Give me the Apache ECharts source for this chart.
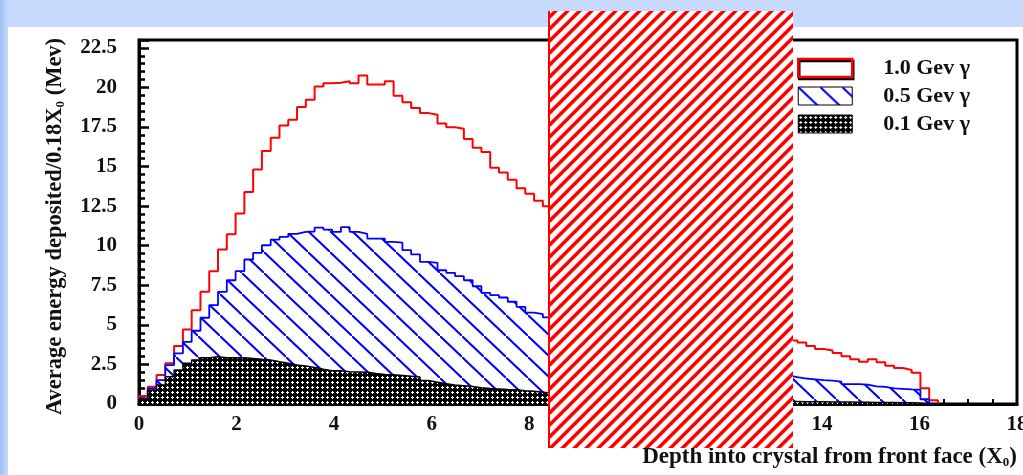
<!doctype html>
<html>
<head>
<meta charset="utf-8">
<title>Energy deposited vs depth</title>
<script src="https://cdn.jsdelivr.net/npm/echarts@6/dist/echarts.min.js"></script>
<style>
html, body { margin: 0; padding: 0; background: #fff; }
#main { width: 1023px; height: 475px; }
</style>
</head>
<body>
<div id="main"></div>
<script>
// histogram bins are 0.18 X0 wide, starting at 0
var binWidth = 0.18;
var seriesNames = ['1.0 Gev \u03b3', '0.5 Gev \u03b3', '0.1 Gev \u03b3'];

// 1.0 GeV gamma (bins 47-73 are hidden behind the striped box, rough estimates)
var e100 = [0.5, 1.09, 1.83, 2.57, 3.66, 4.71, 5.93, 7.09, 8.39, 9.76, 10.73, 12.03, 13.4, 14.81, 15.98, 16.82, 17.6, 17.96, 18.76, 19.22, 20.06, 20.27, 20.3, 20.4,
  20.27, 20.76, 20.19, 20.19, 20.4, 19.47, 19.07, 18.7, 18.38, 18.28, 17.73, 17.48, 17.39, 16.74, 16.19, 15.92, 14.93, 14.63, 14.17, 13.64, 13.29, 12.85, 12.49,
  12.2, 11.8, 11.5, 11.1, 10.7, 10.4, 10.1, 9.7, 9.4, 9.0, 8.7, 8.4, 8.1, 7.7, 7.5, 7.1, 6.9, 6.6, 6.3, 6.0, 5.8, 5.5, 5.3, 5.0, 4.8, 4.5, 4.3,
  4.02, 3.88, 3.67, 3.47, 3.38, 3.22, 3.01, 2.83, 2.67, 2.82, 2.64, 2.42, 2.27, 2.15, 1.98, 0.99, 0.23];

// 0.5 GeV gamma
var e050 = [0.36, 0.99, 1.51, 2.46, 3.2, 3.93, 4.63, 5.45, 6.25, 7.09, 7.82, 8.39, 9.13, 9.55, 10.03, 10.39, 10.56, 10.75, 10.87, 10.9, 11.15, 11.02, 10.87, 11.17,
  10.87, 10.75, 10.45, 10.45, 10.24, 10.2, 9.72, 9.46, 8.98, 8.92, 8.45, 8.29, 8.08, 7.82, 7.44, 7.02, 6.88, 6.73, 6.46, 6.14, 5.78, 5.68, 5.47,
  5.3, 5.2, 5.0, 4.9, 4.7, 4.6, 4.4, 4.3, 4.1, 4.0, 3.8, 3.7, 3.5, 3.4, 3.3, 3.1, 3.0, 2.9, 2.8, 2.6, 2.5, 2.4, 2.3, 2.2, 2.0, 1.9, 1.8,
  1.7, 1.61, 1.56, 1.51, 1.48, 1.41, 1.26, 1.26, 1.22, 1.12, 1.08, 0.99, 0.96, 0.92, 0.9, 0.3, 0];

// 0.1 GeV gamma
var e010 = [0.3, 0.88, 1.2, 1.72, 2.15, 2.57, 2.78, 2.92, 2.99, 2.92, 2.92, 2.92, 2.88, 2.82, 2.78, 2.67, 2.57, 2.46, 2.4, 2.31, 2.19, 2.1, 2.1, 2.04,
  2.02, 2.0, 1.92, 1.86, 1.85, 1.8, 1.75, 1.7, 1.48, 1.38, 1.28, 1.2, 1.15, 1.1, 1.02, 0.98, 0.95, 0.92, 0.9, 0.83, 0.8, 0.75, 0.7,
  0.66, 0.63, 0.6, 0.57, 0.55, 0.52, 0.5, 0.48, 0.45, 0.43, 0.41, 0.39, 0.37, 0.35, 0.33, 0.31, 0.3, 0.28, 0.27, 0.25, 0.24, 0.22, 0.21, 0.2, 0.19, 0.18, 0.17,
  0.16, 0.15, 0.15, 0.14, 0.13, 0.13, 0.12, 0.11, 0.11, 0.1, 0.1, 0.09, 0.08, 0.08, 0.07, 0.03, 0];

var xRange = [0, 18];
var yRange = [0, 23];

var serif = "'Liberation Serif', 'Times New Roman', serif";

// step points for a histogram outline (bin edges)
function histPoints(vals) {
  var pts = [[0, 0]];
  for (var i = 0; i < vals.length; i++) {
    pts.push([i * binWidth, vals[i]]);
  }
  pts.push([vals.length * binWidth, vals[vals.length - 1]]);
  pts.push([vals.length * binWidth, 0]);
  return pts;
}

function makeTile(w, h, draw) {
  var c = document.createElement('canvas');
  c.width = w;
  c.height = h;
  draw(c.getContext('2d'), w, h);
  return c;
}

// blue "\" hatching
var blueTile = makeTile(22, 21, function (ctx, w, h) {
  ctx.fillStyle = '#fff';
  ctx.fillRect(0, 0, w, h);
  ctx.strokeStyle = '#0000ff';
  ctx.lineWidth = 2;
  for (var k = -1; k <= 1; k++) {
    ctx.beginPath();
    ctx.moveTo(k * w, k * h);
    ctx.lineTo(k * w + w, k * h + h);
    ctx.stroke();
  }
});

// black with small white crosses
var blackTile = makeTile(5, 5, function (ctx) {
  ctx.fillStyle = '#000';
  ctx.fillRect(0, 0, 5, 5);
  ctx.fillStyle = '#fff';
  ctx.fillRect(2, 1, 1, 3);
  ctx.fillRect(1, 2, 3, 1);
});

// red "/" stripes for the box covering the middle
var stripeTile = makeTile(12, 12, function (ctx) {
  ctx.fillStyle = '#fff';
  ctx.fillRect(0, 0, 12, 12);
  ctx.fillStyle = '#ff0000';
  [-12, 0, 12].forEach(function (x0) {
    ctx.beginPath();
    ctx.moveTo(x0, 12);
    ctx.lineTo(x0 + 5, 12);
    ctx.lineTo(x0 + 17, 0);
    ctx.lineTo(x0 + 12, 0);
    ctx.closePath();
    ctx.fill();
  });
});

var bluePattern = { image: blueTile, repeat: 'repeat' };
var blackPattern = { image: blackTile, repeat: 'repeat' };
var stripePattern = { image: stripeTile, repeat: 'repeat' };

var myChart = echarts.init(document.getElementById('main'));

var option = {
  backgroundColor: '#fff',
  animation: false,
  grid: {
    left: 139, top: 40, width: 878, height: 364,
    show: true, borderColor: '#000', borderWidth: 3,
    outerBoundsMode: 'none'
  },
  legend: {
    orient: 'vertical',
    left: 797, top: 57, padding: 0,
    itemWidth: 54, itemHeight: 18, itemGap: 6,
    selectedMode: false,
    textStyle: { fontFamily: serif, fontWeight: 'bold', fontSize: 22, color: '#111', padding: [0, 0, 0, 26] },
    data: [
      { name: seriesNames[0], icon: 'rect', itemStyle: { color: '#fff', borderColor: '#ff0000', borderWidth: 2.5, shadowColor: '#000', shadowOffsetX: 1, shadowOffsetY: 2, shadowBlur: 0 } },
      { name: seriesNames[1], icon: 'rect', itemStyle: { color: bluePattern, borderColor: '#000', borderWidth: 1 } },
      { name: seriesNames[2], icon: 'rect', itemStyle: { color: blackPattern, borderColor: '#000', borderWidth: 1 } }
    ]
  },
  xAxis: {
    type: 'value',
    min: xRange[0], max: xRange[1], interval: 2,
    splitLine: { show: false },
    axisLine: { lineStyle: { color: '#000', width: 3 } },
    axisTick: { inside: true, length: 10, lineStyle: { color: '#000', width: 2 } },
    minorTick: { show: true, splitNumber: 4, length: 5, lineStyle: { color: '#000', width: 2 } },
    axisLabel: { margin: 10, fontFamily: serif, fontWeight: 'bold', fontSize: 21, color: '#111' },
    name: 'Depth into crystal from front face (X{s|0})',
    nameLocation: 'end',
    nameGap: 0,
    nameMoveOverlap: false,
    nameTextStyle: {
      fontFamily: serif, fontWeight: 'bold', fontSize: 23, color: '#111',
      align: 'right', verticalAlign: 'top', padding: [42, 0, 0, 0],
      rich: { s: { fontFamily: serif, fontWeight: 'bold', fontSize: 13, color: '#111', verticalAlign: 'bottom' } }
    }
  },
  yAxis: {
    type: 'value',
    min: yRange[0], max: yRange[1], interval: 2.5,
    splitLine: { show: false },
    axisLine: { show: true, lineStyle: { color: '#000', width: 3 } },
    axisTick: { show: true, inside: true, length: 10, lineStyle: { color: '#000', width: 2.5 } },
    minorTick: { show: true, splitNumber: 5, length: 6, lineStyle: { color: '#000', width: 2.5 } },
    axisLabel: { margin: 22, showMaxLabel: false, fontFamily: serif, fontWeight: 'bold', fontSize: 21, color: '#111' },
    name: 'Average energy deposited/0.18X{s|0} (Mev)',
    nameLocation: 'middle',
    nameGap: 72,
    nameMoveOverlap: false,
    nameTextStyle: {
      fontFamily: serif, fontWeight: 'bold', fontSize: 22.5, color: '#111',
      padding: [0, 9, 0, 0],
      rich: { s: { fontFamily: serif, fontWeight: 'bold', fontSize: 13, color: '#111', verticalAlign: 'bottom' } }
    }
  },
  series: [
    {
      name: seriesNames[0], type: 'line', step: 'end', z: 2,
      showSymbol: false, symbol: 'none',
      lineStyle: { color: '#ff0000', width: 2 },
      itemStyle: { color: '#ff0000' },
      data: histPoints(e100)
    },
    {
      name: seriesNames[1], type: 'line', step: 'end', z: 3,
      showSymbol: false, symbol: 'none',
      lineStyle: { color: '#0000ff', width: 1.8 },
      itemStyle: { color: '#0000ff' },
      areaStyle: { color: bluePattern, opacity: 1 },
      data: histPoints(e050)
    },
    {
      name: seriesNames[2], type: 'line', step: 'end', z: 4,
      showSymbol: false, symbol: 'none',
      lineStyle: { color: '#000', width: 1.5 },
      itemStyle: { color: '#000' },
      areaStyle: { color: blackPattern, opacity: 1 },
      data: histPoints(e010)
    }
  ],
  graphic: [
    { type: 'rect', z: -10, silent: true, shape: { x: 0, y: 0, width: 1023, height: 27 }, style: { fill: '#c6dafd' } },
    { type: 'rect', z: -10, silent: true, shape: { x: 0, y: 0, width: 8, height: 475 },
      style: { fill: new echarts.graphic.LinearGradient(0, 0, 1, 0, [{ offset: 0, color: '#9fc2f7' }, { offset: 1, color: '#c4d9fc' }]) } },
    { type: 'rect', z: 100, silent: true, shape: { x: 548, y: 11, width: 245, height: 437 }, style: { fill: stripePattern } },
    { type: 'rect', z: 101, silent: true, shape: { x: 548, y: 11, width: 2, height: 437 }, style: { fill: '#ff0000' } }
  ]
};

myChart.setOption(option);
</script>
</body>
</html>
